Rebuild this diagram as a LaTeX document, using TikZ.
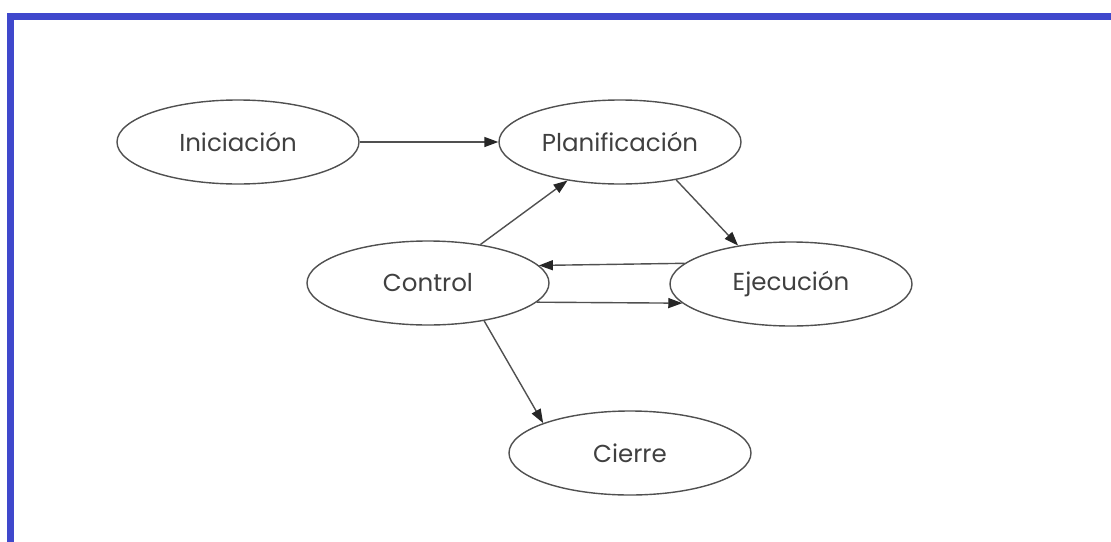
\documentclass[tikz,border=0pt]{standalone}
\usepackage{fontspec}
\setmainfont{Poppins}
\usetikzlibrary{arrows.meta,shapes.geometric}
\definecolor{frameblue}{HTML}{3F48CC}
\definecolor{txt}{HTML}{404040}
\definecolor{edge}{HTML}{505050}
\tikzset{
  state/.style={ellipse, draw=edge, line width=1.4pt, minimum width=242pt, minimum height=84pt, inner sep=0pt, font=\fontsize{24.5}{28}\selectfont, text=txt},
  conn/.style={draw=edge, line width=1.4pt, -{Triangle[length=14pt,width=10pt,color=black!85]}}
}
\begin{document}
\begin{tikzpicture}[x=1pt,y=-1pt]
\useasboundingbox (0,0) rectangle (1111,541);
\clip (0,0) rectangle (1111,541);
\fill[white] (0,0) rectangle (1111,541);
\draw[frameblue, line width=7pt] (10.5,560) -- (10.5,16.5) -- (1114,16.5) -- (1114,560);
\node[state] (ini) at (238,142) {Iniciación};
\node[state] (pla) at (620,142) {Planificación};
\node[state] (con) at (428,283) {Control};
\node[state] (eje) at (791,284) {Ejecución};
\node[state] (cie) at (630,453) {Cierre};
\draw[conn] (ini) -- (pla);
\draw[conn] (con) -- (pla);
\draw[conn] (pla.-34.6) -- (eje.144);
\draw[conn] (eje.169.3) -- (con.9.6);
\draw[conn] (con.-10) -- (eje.-170.6);
\draw[conn] (con.-34) -- (cie.161);
\end{tikzpicture}
\end{document}
